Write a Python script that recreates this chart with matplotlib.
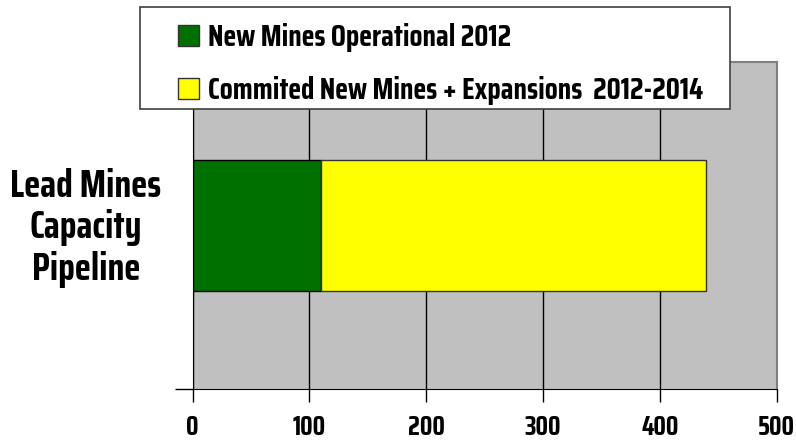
import matplotlib.pyplot as plt
from matplotlib.patches import Patch, Rectangle

# capacity pipeline (kt)
category = ["Lead Mines Capacity Pipeline"]
operational_2012 = [110]
committed_2012_2014 = [330]
series_labels = ["New Mines Operational 2012", "Commited New Mines + Expansions  2012-2014"]
series_colors = ["#007000", "#FFFF00"]
x_ticks = [0, 100, 200, 300, 400, 500]

plt.rcParams['font.family'] = ['Saira Condensed', 'DejaVu Sans']
plt.rcParams['font.weight'] = 'bold'

fig = plt.figure(figsize=(7.96, 4.41), dpi=100)
W, H = 796, 441
ax = fig.add_axes([192.5 / W, (H - 389) / H, 584 / W, 327 / H])
ax.set_facecolor("#C0C0C0")

ax.barh([0], operational_2012, height=0.4, color=series_colors[0],
        edgecolor="black", linewidth=1.0, zorder=3)
ax.barh([0], committed_2012_2014, left=operational_2012, height=0.4,
        color=series_colors[1], edgecolor="#333333", linewidth=1.0, zorder=3)

ax.set_xlim(0, 500)
ax.set_ylim(-0.5, 0.5)
ax.set_xticks(x_ticks)
ax.set_xticklabels([str(t) for t in x_ticks], fontsize=19, fontweight='bold')
ax.tick_params(axis='x', direction='out', length=9, width=1, pad=10)
ax.set_yticks([-0.5])
ax.set_yticklabels([""])
ax.tick_params(axis='y', direction='out', length=13, width=1)
ax.grid(axis='x', color='black', linewidth=1, zorder=1)

for side in ("top", "right"):
    ax.spines[side].set_color("#808080")
    ax.spines[side].set_linewidth(1.5)
ax.spines["left"].set_color("black")
ax.spines["bottom"].set_color("black")

fig.text(86 / W, 1 - 228 / H, "Lead Mines\nCapacity\nPipeline", ha='center', va='center',
         fontsize=27, fontweight='bold', linespacing=1.15)

# legend box on top of the plot area
box = Rectangle((140 / W, 1 - 109 / H), 590 / W, 102 / H, transform=fig.transFigure,
                facecolor="white", edgecolor="#404040", linewidth=1.2, zorder=5)
fig.patches.append(box)
handles = [Patch(facecolor=c, edgecolor="#333333", linewidth=1) for c in series_colors]
leg = fig.legend(handles, series_labels, loc='upper left',
                 bbox_to_anchor=(166 / W, 1 - 11 / H), frameon=False,
                 prop={'size': 21.5, 'weight': 'bold'}, handlelength=0.72, handleheight=0.72,
                 handletextpad=0.3, labelspacing=0.8, borderaxespad=0)
leg.set_zorder(6)

fig.savefig("out.png", dpi=100)
